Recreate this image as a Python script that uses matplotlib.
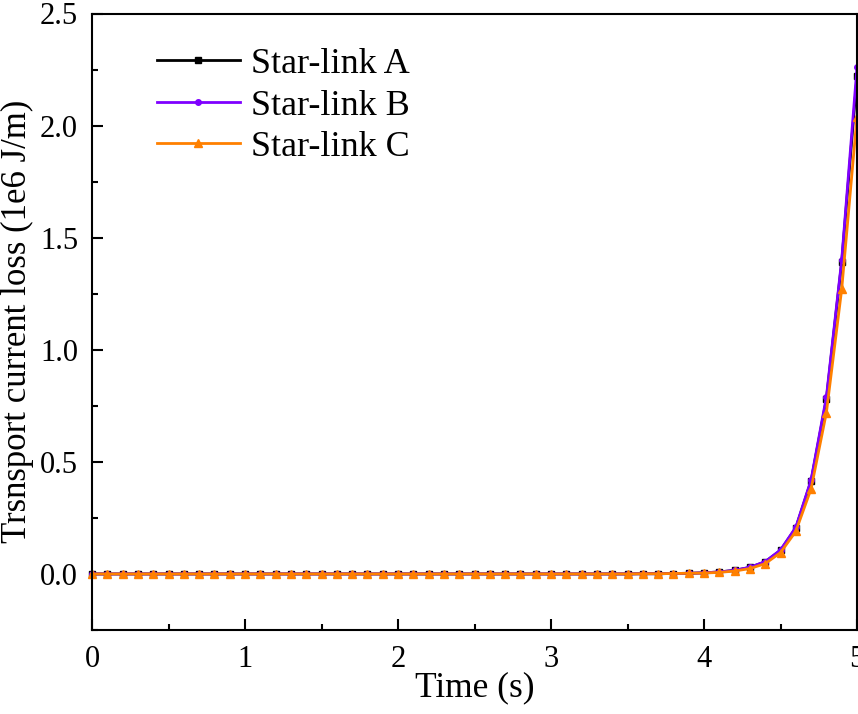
import numpy as np
import matplotlib
matplotlib.use("Agg")
import matplotlib.pyplot as plt
from matplotlib.ticker import MultipleLocator, FormatStrFormatter

plt.rcParams['font.family'] = ['Liberation Serif', 'DejaVu Serif']

# Sampling times (s)
time_s = np.linspace(0.0, 5.0, 51)

# Transport current loss (1e6 J/m) for each star-link configuration
flat = [0.0] * 36  # t = 0.0 ... 3.5
loss_a = flat + [0.001, 0.001, 0.002, 0.003, 0.005, 0.009, 0.016, 0.029, 0.054,
                 0.105, 0.205, 0.415, 0.780, 1.390, 2.220]
loss_b = flat + [0.001, 0.001, 0.002, 0.003, 0.005, 0.009, 0.016, 0.030, 0.055,
                 0.107, 0.208, 0.420, 0.790, 1.400, 2.260]
loss_c = flat + [0.001, 0.001, 0.002, 0.003, 0.004, 0.007, 0.013, 0.024, 0.046,
                 0.095, 0.190, 0.380, 0.720, 1.270, 2.040]

labels = ["Star-link A", "Star-link B", "Star-link C"]
colors = ["#000000", "#7F00FF", "#FF8000"]
markers = ["s", "o", "^"]
msizes = [4.0, 4.0, 5.5]

fig = plt.figure(figsize=(8.58, 7.14), dpi=100)
ax = fig.add_axes([92 / 858, 1 - 630 / 714, (857 - 92) / 858, (630 - 13.5) / 714])

for y, lab, c, m, ms in zip([loss_a, loss_b, loss_c], labels, colors, markers, msizes):
    ax.plot(time_s, y, color=c, marker=m, markersize=ms, linewidth=2.0,
            label=lab, clip_on=False)

ax.set_xlim(0, 5)
ax.set_ylim(-0.25, 2.5)
ax.xaxis.set_major_locator(MultipleLocator(1))
ax.xaxis.set_minor_locator(MultipleLocator(0.5))
ax.yaxis.set_major_locator(MultipleLocator(0.5))
ax.yaxis.set_minor_locator(MultipleLocator(0.25))
ax.xaxis.set_major_formatter(FormatStrFormatter('%d'))
ax.yaxis.set_major_formatter(FormatStrFormatter('%.1f'))

ax.tick_params(which='both', direction='in', top=False, right=False,
               width=1.5, labelsize=22)
ax.tick_params(axis='x', pad=11)
ax.tick_params(axis='y', pad=10)
ax.tick_params(which='major', length=8)
ax.tick_params(which='minor', length=4.5)
for s in ax.spines.values():
    s.set_linewidth(1.5)

ax.set_xlabel("Time (s)", fontsize=25.5, labelpad=-2)
ax.set_ylabel("Trsnsport current loss (1e6 J/m)", fontsize=25, labelpad=4)

ax.legend(loc='upper left', bbox_to_anchor=(0.066, 0.968), frameon=False,
          fontsize=26, handlelength=2.3, handletextpad=0.3, labelspacing=0.23,
          borderaxespad=0.0)

fig.savefig("out.png", dpi=100)
